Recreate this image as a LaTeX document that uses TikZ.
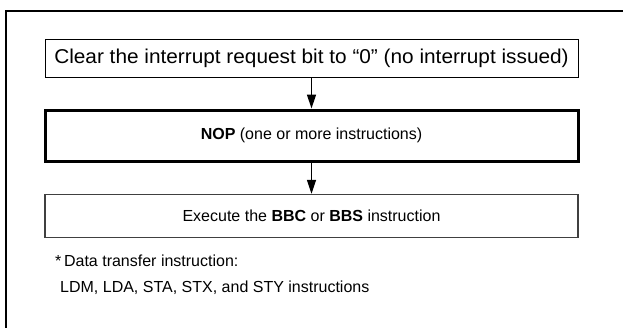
\documentclass[tikz,border=0pt]{standalone}
\usepackage{fontspec}
\setmainfont{Liberation Sans}
\usetikzlibrary{arrows.meta}
\begin{document}
\begin{tikzpicture}[x=1pt,y=-1pt,
  stepbox/.style={draw=black,minimum width=533pt,inner sep=0pt,font=\fontsize{16}{19}\selectfont},
  flow/.style={line width=1.5pt,-{Triangle[length=14pt,width=9pt]}},
  note/.style={font=\fontsize{16}{26}\selectfont,align=left,anchor=north west,inner sep=0pt}]
\useasboundingbox (0,0) rectangle (623,327);
\fill[white] (0,0) rectangle (623,327);
\coordinate (fb) at (6,330);
\coordinate (ftl) at (6,11);
\coordinate (fr) at (626,11);
\draw[line width=2.5pt] (fb) -- (ftl) -- (fr);
\node[stepbox,line width=0.9pt,minimum height=38pt,font=\fontsize{20}{24}\selectfont] (b1) at (311.5,58) {\scalebox{1.04}[1]{Clear the interrupt request bit to “0” (no interrupt issued)}};
\node[stepbox,line width=3pt,minimum height=51pt] (b2) at (311.5,135.5) {\textbf{NOP} (one or more instructions)};
\node[stepbox,draw=black!75,line width=1.3pt,minimum height=43pt] (b3) at (311.5,216) {Execute the \textbf{BBC} or \textbf{BBS} instruction};
\draw[flow] (b1) -- (b2);
\draw[flow] (b2) -- (b3);
\node[note] (n) at (55,255) {*\,Data transfer instruction:\\\hspace*{5pt}LDM, LDA, STA, STX, and STY instructions};
\end{tikzpicture}
\end{document}
